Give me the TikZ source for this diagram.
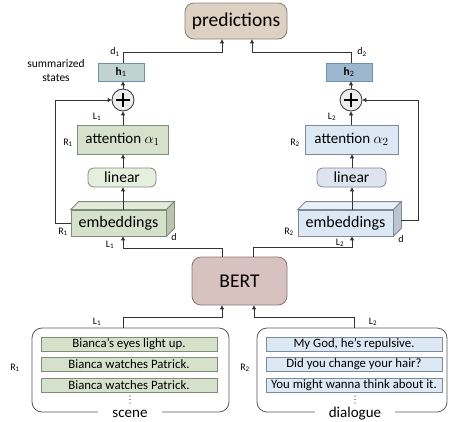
\documentclass[tikz,border=0pt]{standalone}
\usepackage{fontspec}
\setmainfont{Carlito}
\usetikzlibrary{arrows.meta,calc}
\definecolor{lineC}{HTML}{333333}
\definecolor{predF}{HTML}{DDD1C3}
\definecolor{predD}{HTML}{8C8070}
\definecolor{bertF}{HTML}{D8C2C0}
\definecolor{bertD}{HTML}{8A7674}
\definecolor{gF}{HTML}{D6E1CB}
\definecolor{gL}{HTML}{E6EEDD}
\definecolor{gT}{HTML}{E3EADA}
\definecolor{gS}{HTML}{B9C3AF}
\definecolor{gD}{HTML}{7F8C77}
\definecolor{bF}{HTML}{DCE8F4}
\definecolor{bL}{HTML}{DDE4EF}
\definecolor{bT}{HTML}{E9F0F8}
\definecolor{bS}{HTML}{BAC5D1}
\definecolor{bD}{HTML}{7D8A99}
\definecolor{hOneF}{HTML}{C0D3CE}
\definecolor{hTwoF}{HTML}{9DB8CE}
\definecolor{hD}{HTML}{6E8FB0}
\tikzset{
  arr/.style={draw=lineC, line width=0.9pt, -{Triangle[length=4pt,width=4pt]}},
  ln/.style={draw=lineC, line width=0.9pt},
  bigbox/.style={rounded corners=9pt, line width=0.8pt, inner sep=0pt, font=\fontsize{19.5}{19.5}\selectfont},
  attbox/.style={draw=gD, line width=0.8pt, inner sep=0pt, minimum height=29pt, font=\fontsize{15}{15}\selectfont},
  linbox/.style={rounded corners=6pt, line width=0.8pt, inner sep=0pt, minimum width=68pt, minimum height=19pt, font=\fontsize{15.5}{15.5}\selectfont},
  embbox/.style={line width=0.8pt, inner sep=0pt, minimum width=95pt, minimum height=26pt},
  embtxt/.style={inner sep=0pt, font=\fontsize{16}{16}\selectfont},
  hbox/.style={draw=hD, line width=0.8pt, inner sep=0pt, minimum width=46pt, minimum height=18pt, font=\fontsize{11.5}{11.5}\selectfont},
  plusc/.style={circle, draw=lineC, fill=gray!15, line width=0.8pt, minimum size=22pt, inner sep=0pt},
  item/.style={line width=0.8pt, inner sep=0pt, minimum width=176pt, minimum height=14pt, font=\fontsize{12.8}{12.8}\selectfont},
  lab/.style={inner sep=0pt, font=\fontsize{10}{10}\selectfont},
  grp/.style={draw=gray!70!black, line width=0.8pt, rounded corners=10pt},
  glab/.style={fill=white, inner ysep=1pt, inner xsep=14pt, font=\fontsize{15}{15}\selectfont},
  dot/.style={fill=black!80, radius=0.6pt}
}
\begin{document}
\begin{tikzpicture}[x=1pt,y=-1pt]
\useasboundingbox (0,0) rectangle (449,421);
% top
\node[bigbox, draw=predD, fill=predF, minimum width=102pt, minimum height=36pt] (pred) at (236,21) {predictions};
\node[hbox, fill=hOneF] (h1) at (121,72) {\textbf{h}\textsubscript{1}};
\node[hbox, fill=hTwoF] (h2) at (349,72) {\textbf{h}\textsubscript{2}};
\node[inner sep=0pt, font=\fontsize{11.5}{14.5}\selectfont, align=center] (summ) at (56,70.5) {summarized\\states};
\node[plusc] (p1) at (123,100) {};
\node[plusc] (p2) at (351,100) {};
\draw[line width=1.6pt] ($(p1)+(-7,0)$) -- ($(p1)+(7,0)$) ($(p1)+(0,-7)$) -- ($(p1)+(0,7)$);
\draw[line width=1.6pt] ($(p2)+(-7,0)$) -- ($(p2)+(7,0)$) ($(p2)+(0,-7)$) -- ($(p2)+(0,7)$);
% attention
\node[attbox, fill=gF, minimum width=91pt] (att1) at (122.5,139.5) {attention $\alpha_1$};
\node[attbox, draw=bD, fill=bF, minimum width=93pt] (att2) at (351.5,139.5) {attention $\alpha_2$};
% linear
\node[linbox, draw=gD, fill=gL] (lin1) at (122,177.5) {linear};
\node[linbox, draw=bD, fill=bL, minimum width=69pt] (lin2) at (351.5,177.5) {linear};
% embeddings (3D)
\node[embbox, draw=gD, fill=gF] (emb1) at (118.5,223) {};
\fill[gT, draw=gD, line width=0.8pt] (emb1.north west) -- ++(8,-8) -- ($(emb1.north east)+(8,-8)$) -- (emb1.north east) -- cycle;
\fill[gS, draw=gD, line width=0.8pt] (emb1.north east) -- ++(8,-8) -- ($(emb1.south east)+(8,-8)$) -- (emb1.south east) -- cycle;
\node[embtxt] at (emb1) {embeddings};
\node[embbox, draw=bD, fill=bF] (emb2) at (345.5,223) {};
\fill[bT, draw=bD, line width=0.8pt] (emb2.north west) -- ++(8,-8) -- ($(emb2.north east)+(8,-8)$) -- (emb2.north east) -- cycle;
\fill[bS, draw=bD, line width=0.8pt] (emb2.north east) -- ++(8,-8) -- ($(emb2.south east)+(8,-8)$) -- (emb2.south east) -- cycle;
\node[embtxt] at (emb2) {embeddings};
% BERT
\node[bigbox, draw=bertD, fill=bertF, minimum width=95pt, minimum height=48pt] (bert) at (239.5,281) {BERT};
% groups
\draw[grp] (32,328) rectangle (229,412);
\draw[grp] (257,328) rectangle (447,412);
\node[glab] (scene) at (130,413.5) {scene};
\node[glab] (dial) at (355,413.5) {dialogue};
\node[item, draw=gD, fill=gF] (s1) at (129,344.5) {Bianca's eyes light up.};
\node[item, draw=gD, fill=gF] (s2) at (129,364) {Bianca watches Patrick.};
\node[item, draw=gD, fill=gF] (s3) at (129,385.5) {Bianca watches Patrick.};
\node[item, draw=bD, fill=bF] (u1) at (354,344.5) {My God, he's repulsive.};
\node[item, draw=bD, fill=bF] (u2) at (354,364) {Did you change your hair?};
\node[item, draw=bD, fill=bF] (u3) at (354,385.5) {You might wanna think about it.};
\foreach \yy in {396,399.5,403} {
  \fill[dot] (130,\yy) circle;
  \fill[dot] (355,\yy) circle;
}
% coordinates
\coordinate (c1) at (123,0);
\coordinate (c2) at (352,0);
\coordinate (top1) at (123,328);
\coordinate (top2) at (354,328);
\coordinate (k1) at (222,52);
\coordinate (k2) at (252,52);
\coordinate (b1) at (222,317);
\coordinate (b2) at (254,317);
\coordinate (e1) at (222,248);
\coordinate (e2) at (253,247);
\coordinate (lp1) at (55,100);
\coordinate (lp2) at (418,100);
% connectors
\draw[arr] (top1) |- (b1) -- (b1 |- bert.south);
\draw[arr] (top2) |- (b2) -- (b2 |- bert.south);
\draw[arr] (e1 |- bert.north) -- (e1) -| (c1 |- emb1.south);
\draw[arr] (e2 |- bert.north) -- (e2) -| (c2 |- emb2.south);
\draw[arr] (c1 |- emb1.north) -- (c1 |- lin1.south);
\draw[arr] (c2 |- emb2.north) -- (c2 |- lin2.south);
\draw[arr] (c1 |- lin1.north) -- (c1 |- att1.south);
\draw[arr] (c2 |- lin2.north) -- (c2 |- att2.south);
\draw[arr] (c1 |- att1.north) -- (p1.south);
\draw[arr] (p2 |- att2.north) -- (p2.south);
\draw[arr] (p1.north) -- (p1 |- h1.south);
\draw[arr] (p2.north) -- (p2 |- h2.south);
\draw[arr] (emb1.west) -| (lp1) -- (p1.west);
\draw[arr] ($(emb2.east)+(8,-3)$) -| (lp2) -- (p2.east);
\draw[arr] (p1 |- h1.north) |- (k1) -- (k1 |- pred.south);
\draw[arr] (p2 |- h2.north) |- (k2) -- (k2 |- pred.south);
% labels
\node[lab] at (115,52) {d\textsubscript{1}};
\node[lab] at (362,52) {d\textsubscript{2}};
\node[lab] at (97,117) {L\textsubscript{1}};
\node[lab] at (332,117) {L\textsubscript{2}};
\node[lab] at (68,143) {R\textsubscript{1}};
\node[lab] at (295,143) {R\textsubscript{2}};
\node[lab] at (63,232) {R\textsubscript{1}};
\node[lab] at (289,232) {R\textsubscript{2}};
\node[lab] at (174,237) {d};
\node[lab] at (401,239) {d};
\node[lab] at (110,245) {L\textsubscript{1}};
\node[lab] at (340,243) {L\textsubscript{2}};
\node[lab] at (97,322) {L\textsubscript{1}};
\node[lab] at (373,322) {L\textsubscript{2}};
\node[lab] at (15,368) {R\textsubscript{1}};
\node[lab] at (245,368) {R\textsubscript{2}};
\end{tikzpicture}
\end{document}
